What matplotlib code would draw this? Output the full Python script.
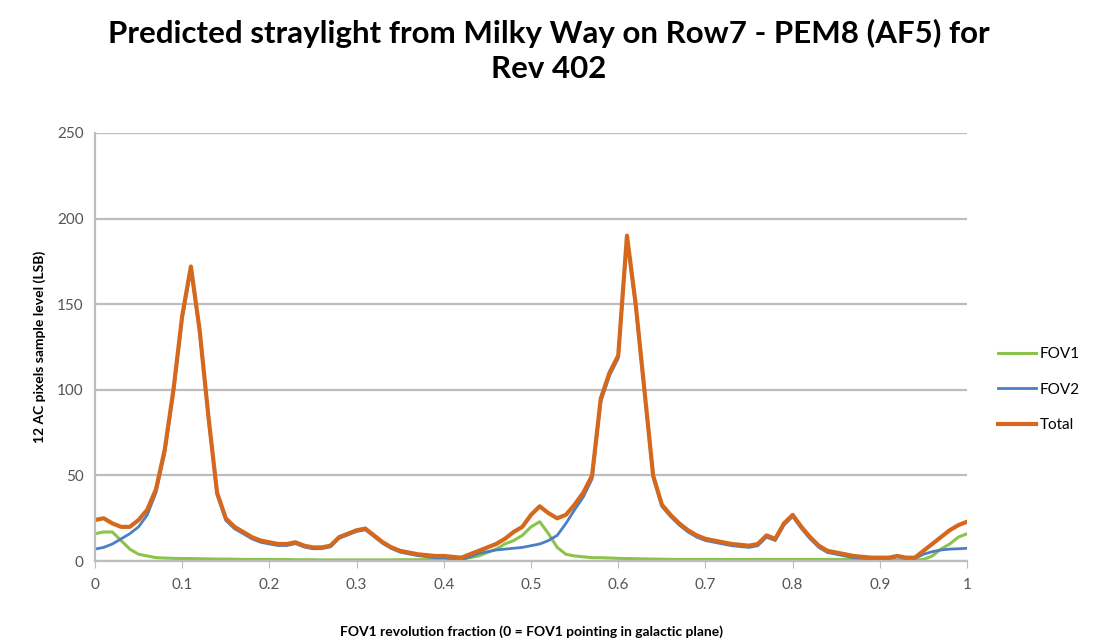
import numpy as np
import matplotlib
matplotlib.use("Agg")
import matplotlib.pyplot as plt

plt.rcParams['font.family'] = ['Lato', 'DejaVu Sans']

# revolution fraction sampled every 0.01
frac = np.round(np.arange(0, 101) * 0.01, 2)

total = [24, 25, 22, 20, 20, 24, 30, 42, 65, 100,
         143, 172, 135, 85, 40, 25, 20, 17, 14, 12,
         11, 10, 10, 11, 9, 8, 8, 9, 14, 16,
         18, 19, 15, 11, 8, 6, 5, 4, 3.5, 3,
         3, 2.5, 2, 4, 6, 8, 10, 13, 17, 20,
         27, 32, 28, 25, 27, 33, 40, 50, 95, 110,
         120, 190, 150, 100, 50, 33, 27, 22, 18, 15,
         13, 12, 11, 10, 9.5, 9, 10, 15, 13, 22,
         27, 20, 14, 9, 6, 5, 4, 3, 2.5, 2,
         2, 2, 3, 2, 2, 6, 10, 14, 18, 21,
         23]

fov1 = [16, 17, 17, 12, 7, 4, 3, 2, 1.8, 1.6,
        1.5, 1.5, 1.4, 1.3, 1.2, 1.2, 1.1, 1, 1, 1,
        1, 0.9, 0.9, 0.8, 0.8, 0.8, 0.7, 0.7, 0.7, 0.7,
        0.7, 0.7, 0.7, 0.7, 0.7, 0.8, 0.8, 0.8, 0.9, 1,
        1, 1.2, 1.5, 2, 3, 5, 7, 10, 12, 15,
        20, 23, 16, 8, 4, 3, 2.5, 2, 2, 1.8,
        1.6, 1.5, 1.4, 1.3, 1.2, 1.1, 1, 1, 1, 1,
        1, 1, 1, 1, 1, 1, 1, 1, 1, 1,
        1, 1, 1, 1, 1, 1, 1, 1, 0.8, 0.7,
        0.6, 0.6, 0.5, 0.5, 0.5, 1, 3, 7, 10, 14,
        16]

fov2 = [7, 8, 10, 13, 16, 20, 27, 40, 63, 98.4,
        141.5, 170.5, 133.6, 83.7, 38.8, 23.8, 18.9, 16, 13, 11,
        10, 9.1, 9.1, 10.2, 8.2, 7.2, 7.3, 8.3, 13.3, 15.3,
        17.3, 18.3, 14.3, 10.3, 7.3, 5.2, 4.2, 3.2, 2.6, 2,
        2, 1.3, 0.5, 2.5, 4.5, 5.5, 6.5, 7, 7.5, 8,
        9, 10, 12, 15, 22, 30, 37.5, 48, 93, 108.2,
        118.4, 188.5, 148.6, 98.7, 48.8, 31.9, 26, 21, 17, 14,
        12, 11, 10, 9, 8.5, 8, 9, 14, 12, 21,
        26, 19, 13, 8, 5, 4, 3, 2, 1.7, 1.3,
        1.4, 1.4, 2.5, 1.5, 1.5, 4, 5.5, 6.5, 7, 7.2,
        7.5]

fig = plt.figure(figsize=(11.04, 6.42), dpi=100)
ax = fig.add_axes([0.086, 0.126, 0.79, 0.667])

ax.plot(frac, fov1, color='#8cc34a', lw=2.2, label='FOV1')
ax.plot(frac, fov2, color='#4a7fc8', lw=2.0, label='FOV2')
ax.plot(frac, total, color='#d4691e', lw=3.0, label='Total')

ax.set_xlim(0, 1)
ax.set_ylim(0, 250)
ax.set_yticks([0, 50, 100, 150, 200, 250])
ax.set_xticks(np.round(np.arange(0, 11) * 0.1, 1))
ax.set_xticklabels(['0', '0.1', '0.2', '0.3', '0.4', '0.5', '0.6', '0.7', '0.8', '0.9', '1'])
ax.yaxis.grid(True, color='#bdbdbd', lw=1.6)
ax.set_axisbelow(True)
for s in ['top', 'right']:
    ax.spines[s].set_visible(False)
ax.spines['left'].set_color('#bdbdbd')
ax.spines['left'].set_linewidth(1.6)
ax.spines['bottom'].set_color('#bdbdbd')
ax.spines['bottom'].set_linewidth(1.6)
ax.tick_params(axis='y', length=0, labelsize=11, colors='#555555', pad=8)
ax.tick_params(axis='x', length=5, color='#bdbdbd', labelsize=11, colors='#555555', pad=7)

ax.set_xlabel('FOV1 revolution fraction (0 = FOV1 pointing in galactic plane)',
              fontsize=10, fontweight='bold', labelpad=24)
ax.set_ylabel('12 AC pixels sample level (LSB)', fontsize=10, fontweight='bold', labelpad=8)

fig.suptitle('Predicted straylight from Milky Way on Row7 - PEM8 (AF5) for\nRev 402',
             x=0.497, y=0.97, fontsize=22.5, fontweight='bold', linespacing=1.3)

ax.legend(loc='center left', bbox_to_anchor=(1.02, 0.40), frameon=False,
          fontsize=11, handlelength=2.5, labelspacing=1.4, handletextpad=0.2)

fig.savefig('out.png', dpi=100)
